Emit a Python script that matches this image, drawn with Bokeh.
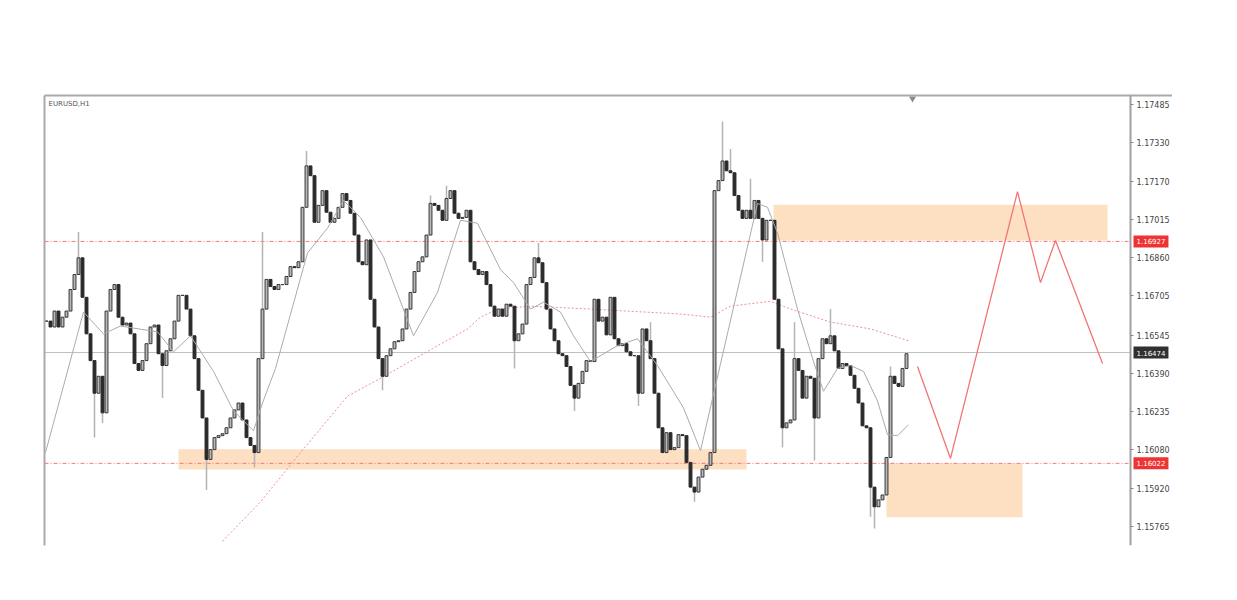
from bokeh.plotting import figure
from bokeh.models import Range1d, LinearAxis, FixedTicker, Label, ColumnDataSource, CustomJSTickFormatter
from bokeh.embed import file_html
from bokeh.resources import INLINE

symbol = "EURUSD,H1"

# hourly closes (one per bar)
closes = [
    1.16602, 1.16578, 1.16643, 1.16578, 1.16618, 1.16643, 1.16731, 1.16792, 1.16860, 1.16699, 1.16550, 1.16441,
    1.16308, 1.16377, 1.16228, 1.16643, 1.16731, 1.16751, 1.16618, 1.16586, 1.16594, 1.16550, 1.16429, 1.16401,
    1.16441, 1.16510, 1.16578, 1.16586, 1.16469, 1.16421, 1.16481, 1.16530, 1.16602, 1.16707, 1.16707, 1.16651,
    1.16542, 1.16449, 1.16320, 1.16207, 1.16038, 1.16078, 1.16127, 1.16135, 1.16143, 1.16167, 1.16207, 1.16240,
    1.16268, 1.16199, 1.16127, 1.16095, 1.16066, 1.16449, 1.16651, 1.16772, 1.16743, 1.16731, 1.16751, 1.16751,
    1.16784, 1.16824, 1.16820, 1.16844, 1.17066, 1.17235, 1.17195, 1.17005, 1.17074, 1.17134, 1.17046, 1.17005,
    1.17021, 1.17066, 1.17122, 1.17094, 1.17042, 1.16953, 1.16844, 1.16832, 1.16933, 1.16691, 1.16578, 1.16449,
    1.16377, 1.16461, 1.16489, 1.16518, 1.16522, 1.16570, 1.16651, 1.16719, 1.16804, 1.16844, 1.16864, 1.16953,
    1.17082, 1.17074, 1.17054, 1.17013, 1.17102, 1.17134, 1.17042, 1.17021, 1.17025, 1.17054, 1.16844, 1.16812,
    1.16792, 1.16804, 1.16751, 1.16663, 1.16622, 1.16651, 1.16622, 1.16671, 1.16663, 1.16522, 1.16550, 1.16590,
    1.16751, 1.16780, 1.16860, 1.16840, 1.16759, 1.16651, 1.16570, 1.16522, 1.16469, 1.16461, 1.16417, 1.16340,
    1.16288, 1.16348, 1.16397, 1.16441, 1.16437, 1.16691, 1.16602, 1.16618, 1.16546, 1.16699, 1.16530, 1.16502,
    1.16510, 1.16477, 1.16461, 1.16461, 1.16308, 1.16570, 1.16522, 1.16449, 1.16308, 1.16167, 1.16066, 1.16147,
    1.16078, 1.16086, 1.16139, 1.16135, 1.16026, 1.15925, 1.15905, 1.15966, 1.15998, 1.16014, 1.16066, 1.17134,
    1.17175, 1.17255, 1.17215, 1.17207, 1.17114, 1.17054, 1.17021, 1.17054, 1.17021, 1.17094, 1.17021, 1.16933,
    1.17013, 1.17013, 1.16691, 1.16489, 1.16167, 1.16187, 1.16199, 1.16449, 1.16401, 1.16288, 1.16377, 1.16369,
    1.16207, 1.16449, 1.16530, 1.16510, 1.16542, 1.16481, 1.16409, 1.16429, 1.16421, 1.16381, 1.16328, 1.16268,
    1.16175, 1.16167, 1.15925, 1.15845, 1.15873, 1.15893, 1.16046, 1.16377, 1.16348, 1.16336, 1.16409, 1.16469,
]

# visible wick extremes (bar index -> price)
high_bars = [8, 54, 65, 96, 100, 123, 151, 169, 171, 176, 187, 196, 211]
high_vals = [1.16965, 1.16965, 1.17296, 1.17114, 1.17154, 1.16921, 1.16598, 1.17416, 1.17304, 1.17183, 1.16598, 1.16651, 1.16417]
low_bars = [12, 14, 29, 40, 52, 84, 117, 132, 148, 162, 179, 184, 192, 206, 207]
low_vals = [1.16127, 1.16187, 1.16288, 1.15913, 1.16006, 1.16320, 1.16409, 1.16236, 1.16256, 1.15865, 1.16844, 1.16087, 1.16034, 1.15804, 1.15756]

# fast moving average (grey)
fast_ma_bar = [-0.25, 9.25, 14.25, 18.5, 27.75, 31.75, 36, 41.75, 46.75, 51.75, 54, 57.25, 65.25, 70.25, 74.25,
               78.5, 84.25, 91.75, 97.75, 103.5, 107.75, 113.5, 116.75, 121, 124.25, 128.5, 131.75, 136, 142.75,
               147.75, 152.75, 159.25, 163.5, 177.75, 180.25, 182.75, 187.75, 191.75, 194.25, 197.75, 201, 204.25,
               207.75, 210.25, 212.75, 215.5]
fast_ma_val = [1.16066, 1.16639, 1.16550, 1.16582, 1.16558, 1.16477, 1.16542, 1.16397, 1.16236, 1.16155, 1.16268,
               1.16409, 1.16880, 1.16981, 1.17094, 1.17025, 1.16864, 1.16542, 1.16719, 1.17013, 1.17001, 1.16812,
               1.16759, 1.16651, 1.16679, 1.16639, 1.16542, 1.16437, 1.16502, 1.16530, 1.16421, 1.16248, 1.16074,
               1.17082, 1.17066, 1.16961, 1.16651, 1.16437, 1.16316, 1.16409, 1.16421, 1.16397, 1.16276, 1.16139,
               1.16135, 1.16179]

# slow moving average (red dotted)
slow_ma_bar = [44, 53.5, 63.5, 75.25, 83.5, 96.5, 105.25, 108.5, 112.75, 121, 136, 158.5, 166, 171, 181, 186, 196, 206, 215.5]
slow_ma_val = [1.15704, 1.15865, 1.16066, 1.16296, 1.16369, 1.16490, 1.16570, 1.16618, 1.16651, 1.16663, 1.16651,
               1.16631, 1.16618, 1.16663, 1.16683, 1.16651, 1.16598, 1.16570, 1.16522]

# projected path (red)
proj_bar = [217.75, 226, 242.75, 248.5, 252.25, 264]
proj_val = [1.16417, 1.16042, 1.17130, 1.16759, 1.16931, 1.16429]

# supply / demand zones
zone_left = [33, 181.75, 210]
zone_right = [175, 265.25, 244]
zone_top = [1.16079, 1.17077, 1.16022]
zone_bottom = [1.15997, 1.16931, 1.15802]

level_prices = [1.16927, 1.16022]
level_labels = ["1.16927", "1.16022"]
current_price = 1.16474
current_label = "1.16474"

price_ticks = [1.17485, 1.17330, 1.17170, 1.17015, 1.16860, 1.16705, 1.16545, 1.16390, 1.16235, 1.16080, 1.15920, 1.15765]

# ---------- build table ----------
n = len(closes)
bars = list(range(n))
opens = [closes[0]] + closes[:-1]
highs = [max(o, c) for o, c in zip(opens, closes)]
lows = [min(o, c) for o, c in zip(opens, closes)]
for b, v in zip(high_bars, high_vals):
    highs[b] = max(highs[b], v)
for b, v in zip(low_bars, low_vals):
    lows[b] = min(lows[b], v)

up = [c >= o for o, c in zip(opens, closes)]
src_up = ColumnDataSource(dict(
    x=[b for b, u in zip(bars, up) if u],
    top=[c for c, u in zip(closes, up) if u],
    bottom=[o for o, u in zip(opens, up) if u]))
src_dn = ColumnDataSource(dict(
    x=[b for b, u in zip(bars, up) if not u],
    top=[o for o, u in zip(opens, up) if not u],
    bottom=[c for c, u in zip(closes, up) if not u]))

X_LEFT, X_AXIS, X_RIGHT = -0.5, 271.0, 281.5

p = figure(frame_width=1128, frame_height=450, output_backend="svg", toolbar_location=None,
           x_range=Range1d(X_LEFT, X_RIGHT), y_range=Range1d(1.15687, 1.17522),
           min_border_left=44, min_border_top=95, min_border_right=0, min_border_bottom=47,
           x_axis_location=None, y_axis_location=None)
p.outline_line_color = None
p.xgrid.visible = False
p.ygrid.visible = False
p.background_fill_color = "white"

# frame borders (left, top) as bare axes
left_ax = LinearAxis(ticker=FixedTicker(ticks=[]), axis_line_color="#a9a9a9", axis_line_width=2,
                     major_tick_line_color=None, minor_tick_line_color=None,
                     major_label_text_font_size="0px")
p.add_layout(left_ax, "left")
top_ax = LinearAxis(ticker=FixedTicker(ticks=[]), axis_line_color="#a9a9a9", axis_line_width=2,
                    major_tick_line_color=None, minor_tick_line_color=None,
                    major_label_text_font_size="0px")
p.add_layout(top_ax, "above")

# price scale, drawn at the chart's right edge
right_ax = LinearAxis(ticker=FixedTicker(ticks=price_ticks), fixed_location=X_AXIS,
                      axis_line_color="#a0a0a0", axis_line_width=2,
                      major_tick_line_color="#888888", major_tick_out=3, major_tick_in=0,
                      minor_tick_line_color=None, major_label_standoff=3,
                      major_label_text_font_size="8px", major_label_text_color="#444444",
                      major_label_text_font="DejaVu Sans",
                      formatter=CustomJSTickFormatter(code="return tick.toFixed(5);"))
p.add_layout(right_ax, "right")

# zones
p.quad(left=zone_left, right=zone_right, top=zone_top, bottom=zone_bottom,
       fill_color="#fddfc2", line_color=None)

# current price line & levels (end at the price scale)
p.segment(x0=[X_LEFT], y0=[current_price], x1=[X_AXIS], y1=[current_price],
          line_color="#c0c0c0", line_width=1)
p.segment(x0=[X_LEFT] * len(level_prices), y0=level_prices, x1=[X_AXIS] * len(level_prices), y1=level_prices,
          line_color="#f47878", line_width=1, line_dash="4 2 1 2")

# slow MA
p.line(slow_ma_bar, slow_ma_val, line_color="#f29090", line_width=1, line_dash="2 2")

# candles
p.segment(x0=bars, y0=highs, x1=bars, y1=lows, line_color="#b4b4b4", line_width=1.5)
p.vbar(x="x", top="top", bottom="bottom", width=0.72, source=src_up,
       fill_color="#b8b8b8", line_color="#383838", line_width=1)
p.vbar(x="x", top="top", bottom="bottom", width=0.72, source=src_dn,
       fill_color="#2a2a2a", line_color="#2a2a2a", line_width=1)

# fast MA
p.line(fast_ma_bar, fast_ma_val, line_color="#ababab", line_width=1)

# projection
p.line(proj_bar, proj_val, line_color="#f27474", line_width=1.3)

# chart shift marker
p.scatter([216.5], [1.17510], marker="inverted_triangle", size=7, fill_color="#8a8a8a", line_color=None)

# symbol label
p.add_layout(Label(x=4, y=442, x_units="screen", y_units="screen", text=symbol,
                   text_font_size="7px", text_color="#555555", text_font="DejaVu Sans",
                   text_baseline="middle"))

# price tags on the scale
for lv, lab in zip(level_prices, level_labels):
    p.add_layout(Label(x=1089, y=lv, x_units="screen", y_units="data", text=lab,
                       text_font_size="7px", text_color="white", text_baseline="middle",
                       text_font="DejaVu Sans",
                       background_fill_color="#ee3333", padding=3))
p.add_layout(Label(x=1089, y=current_price, x_units="screen", y_units="data", text=current_label,
                   text_font_size="7px", text_color="white", text_baseline="middle",
                   text_font="DejaVu Sans",
                   background_fill_color="#303030", padding=3))

open("out.html", "w").write(file_html(p, INLINE))
